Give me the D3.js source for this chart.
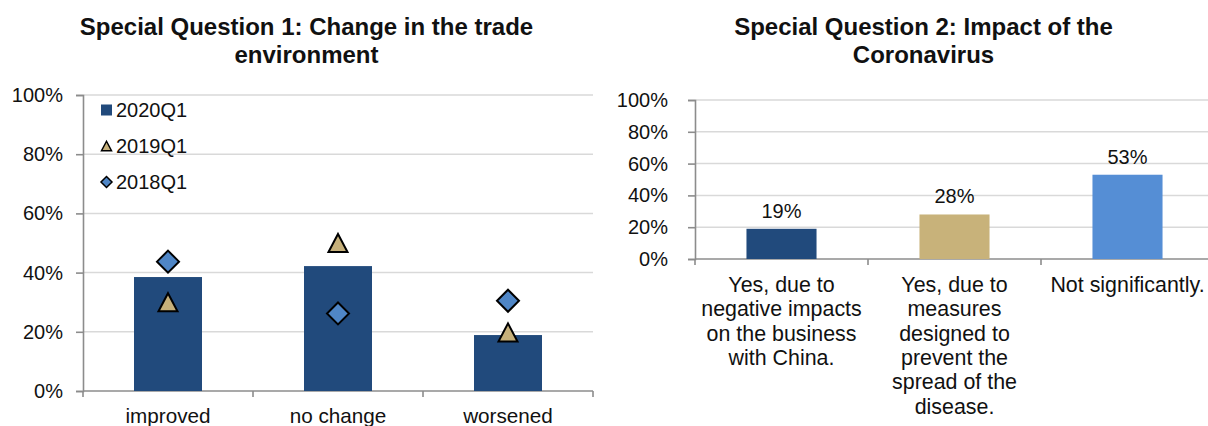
<!DOCTYPE html>
<html>
<head>
<meta charset="utf-8">
<script src="https://cdn.jsdelivr.net/npm/d3@7"></script>
<style>
  html, body { margin: 0; padding: 0; background: #fff; }
  svg { display: block; font-family: "Liberation Sans", Arial, sans-serif; }
</style>
</head>
<body>
<svg id="chart" width="1208" height="426"></svg>
<script>
// Special Question 1: trade environment, three survey waves
const tradeCategories = ["improved", "no change", "worsened"];
const trade2020Q1 = [0.385, 0.422, 0.189];
const trade2019Q1 = [0.30, 0.50, 0.198];
const trade2018Q1 = [0.437, 0.262, 0.305];
const tradeSeriesNames = ["2020Q1", "2019Q1", "2018Q1"];

// Special Question 2: impact of the coronavirus
const coronaCategories = [
  ["Yes, due to", "negative impacts", "on the business", "with China."],
  ["Yes, due to", "measures", "designed to", "prevent the", "spread of the", "disease."],
  ["Not significantly."]
];
const coronaValues = [0.19, 0.28, 0.53];

const percentTicks = [0, 0.2, 0.4, 0.6, 0.8, 1.0];

const COLORS = {
  navy: "#214a7c",
  tan: "#c8b27a",
  sky: "#558ed5",
  diamond: "#4f86c6",
  triangle: "#c6b07a",
  grid: "#d9d9d9",
  axis: "#8c8c8c",
  text: "#111"
};

const svg = d3.select("#chart");
const fmtPct = d3.format(".0%");

function drawFrame(g, x, y, right, tickPad) {
  // horizontal gridlines
  g.append("g").selectAll("line")
    .data(percentTicks.filter(d => d > 0))
    .join("line")
    .attr("x1", x.range()[0]).attr("x2", right)
    .attr("y1", d => y(d)).attr("y2", d => y(d))
    .attr("stroke", COLORS.grid).attr("stroke-width", 1.5);

  // y axis
  const yAxis = g.append("g")
    .attr("transform", `translate(${x.range()[0]},0)`)
    .call(d3.axisLeft(y).tickValues(percentTicks).tickFormat(fmtPct)
      .tickSize(7).tickPadding(tickPad));
  yAxis.select(".domain").attr("stroke", COLORS.axis).attr("stroke-width", 1.6);
  yAxis.selectAll(".tick line").attr("stroke", COLORS.axis).attr("stroke-width", 1.6);
  yAxis.selectAll(".tick text").attr("font-size", 20).attr("fill", COLORS.text)
    .attr("font-family", "Liberation Sans, Arial, sans-serif");

  // x axis baseline with tick marks at category boundaries
  const y0 = y(0);
  g.append("line")
    .attr("x1", x.range()[0]).attr("x2", right)
    .attr("y1", y0).attr("y2", y0)
    .attr("stroke", COLORS.axis).attr("stroke-width", 1.6);
  const bounds = x.domain().map(d => x(d)).concat([x.range()[1]]);
  g.append("g").selectAll("line")
    .data(bounds.filter(b => b <= right))
    .join("line")
    .attr("x1", d => d).attr("x2", d => d)
    .attr("y1", y0).attr("y2", y0 + 6)
    .attr("stroke", COLORS.axis).attr("stroke-width", 1.6);
}

function drawTitle(lines, cx, y) {
  const t = svg.append("text")
    .attr("x", cx).attr("y", y)
    .attr("text-anchor", "middle")
    .attr("font-size", 24).attr("font-weight", "bold").attr("fill", COLORS.text);
  lines.forEach((ln, i) => {
    t.append("tspan").attr("x", cx).attr("dy", i === 0 ? 0 : 28).text(ln);
  });
}

const trianglePath = s => {
  const h = s * 0.95;
  return `M0,${-h / 2}L${s / 2},${h / 2}L${-s / 2},${h / 2}Z`;
};
const diamondPath = s => `M0,${-s / 2}L${s / 2},0L0,${s / 2}L${-s / 2},0Z`;

// ---------- Chart 1 ----------
{
  const g = svg.append("g");
  const x = d3.scaleBand().domain(tradeCategories).range([83, 593]).paddingInner(0).paddingOuter(0);
  const y = d3.scaleLinear().domain([0, 1]).range([391, 95]);
  drawFrame(g, x, y, 593, 13);

  const bw = x.bandwidth() * 0.4;
  g.append("g").selectAll("rect")
    .data(trade2020Q1)
    .join("rect")
    .attr("x", (d, i) => x(tradeCategories[i]) + (x.bandwidth() - bw) / 2)
    .attr("width", bw)
    .attr("y", d => y(d))
    .attr("height", d => y(0) - y(d))
    .attr("fill", COLORS.navy);

  const cx = i => x(tradeCategories[i]) + x.bandwidth() / 2;

  g.append("g").selectAll("path")
    .data(trade2018Q1)
    .join("path")
    .attr("d", diamondPath(22))
    .attr("transform", (d, i) => `translate(${cx(i)},${y(d)})`)
    .attr("fill", COLORS.diamond).attr("stroke", "#000").attr("stroke-width", 2)
    .attr("stroke-linejoin", "miter");

  g.append("g").selectAll("path")
    .data(trade2019Q1)
    .join("path")
    .attr("d", trianglePath(19))
    .attr("transform", (d, i) => `translate(${cx(i)},${y(d)})`)
    .attr("fill", COLORS.triangle).attr("stroke", "#000").attr("stroke-width", 2)
    .attr("stroke-linejoin", "miter");

  // category labels
  g.append("g").selectAll("text")
    .data(tradeCategories)
    .join("text")
    .attr("x", (d, i) => cx(i))
    .attr("y", 423)
    .attr("text-anchor", "middle")
    .attr("font-size", 20.7).attr("fill", COLORS.text)
    .text(d => d);

  // legend
  const lg = g.append("g");
  const legendY = [110, 146, 182];
  const lx = 106.5;
  lg.append("rect").attr("x", lx - 5.5).attr("y", legendY[0] - 5.5)
    .attr("width", 11).attr("height", 11).attr("fill", COLORS.navy);
  lg.append("path").attr("d", trianglePath(10))
    .attr("transform", `translate(${lx},${legendY[1]})`)
    .attr("fill", COLORS.triangle).attr("stroke", "#000").attr("stroke-width", 1.5);
  lg.append("path").attr("d", diamondPath(11))
    .attr("transform", `translate(${lx},${legendY[2]})`)
    .attr("fill", COLORS.diamond).attr("stroke", "#000").attr("stroke-width", 1.5);
  lg.selectAll("text")
    .data(tradeSeriesNames)
    .join("text")
    .attr("x", 116)
    .attr("y", (d, i) => legendY[i] + 7)
    .attr("font-size", 20).attr("fill", COLORS.text)
    .text(d => d);

  drawTitle(["Special Question 1: Change in the trade", "environment"], 306.5, 35);
}

// ---------- Chart 2 ----------
{
  const g = svg.append("g");
  const keys = coronaCategories.map((c, i) => "c" + i);
  const x = d3.scaleBand().domain(keys).range([695, 1214]).paddingInner(0).paddingOuter(0);
  const y = d3.scaleLinear().domain([0, 1]).range([259, 100]);
  drawFrame(g, x, y, 1208, 20);

  const bw = x.bandwidth() * 0.405;
  const fills = [COLORS.navy, COLORS.tan, COLORS.sky];
  const cx = i => x(keys[i]) + x.bandwidth() / 2;

  g.append("g").selectAll("rect")
    .data(coronaValues)
    .join("rect")
    .attr("x", (d, i) => cx(i) - bw / 2)
    .attr("width", bw)
    .attr("y", d => y(d))
    .attr("height", d => y(0) - y(d))
    .attr("fill", (d, i) => fills[i]);

  // value labels
  g.append("g").selectAll("text")
    .data(coronaValues)
    .join("text")
    .attr("x", (d, i) => cx(i))
    .attr("y", d => y(d) - 11)
    .attr("text-anchor", "middle")
    .attr("font-size", 20).attr("fill", COLORS.text)
    .text(d => fmtPct(d));

  // wrapped category labels
  const lab = g.append("g").selectAll("text")
    .data(coronaCategories)
    .join("text")
    .attr("x", (d, i) => cx(i))
    .attr("y", 292)
    .attr("text-anchor", "middle")
    .attr("font-size", 21.4).attr("fill", COLORS.text);
  lab.each(function (lines, i) {
    const t = d3.select(this);
    lines.forEach((ln, j) => {
      t.append("tspan").attr("x", cx(i)).attr("dy", j === 0 ? 0 : 24.3).text(ln);
    });
  });

  drawTitle(["Special Question 2: Impact of the", "Coronavirus"], 923.5, 35);
}
</script>
</body>
</html>
